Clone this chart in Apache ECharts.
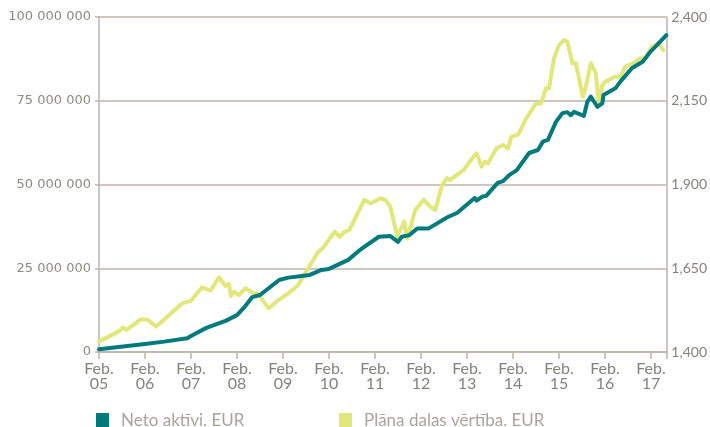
<!DOCTYPE html>
<html>
<head>
<meta charset="utf-8">
<script src="https://cdn.jsdelivr.net/npm/echarts@6/dist/echarts.min.js"></script>
<style>
html,body{margin:0;padding:0;background:#fff;}
#c{width:710px;height:427px;}
</style>
</head>
<body>
<div id="c"></div>
<script>
// x values: months since February 2005
const netMonths = [0, 12, 17, 23, 24, 28, 33, 36, 38, 40, 42, 47, 49.4, 55, 58, 60, 65, 68, 73, 76, 78, 79, 81, 83, 86, 91, 93.4, 98, 98.5, 100, 101, 104, 105.4, 107, 109, 112.2, 114.5, 115.8, 117.1, 119.2, 120.9, 122.2, 123.1, 123.9, 126.5, 127.4, 128.3, 130, 131.3, 131.6, 134.7, 136, 139, 141.9, 143.8, 145.1, 148];
const netValues = [0.8, 2.4, 3.1, 4.1, 4.8, 7.2, 9.3, 11.0, 13.5, 16.4, 17.0, 21.5, 22.2, 23.0, 24.5, 24.8, 27.5, 30.4, 34.4, 34.6, 32.9, 34.4, 34.9, 36.9, 36.9, 40.3, 41.5, 46.0, 45.2, 46.4, 46.6, 50.5, 51.0, 52.8, 54.3, 59.4, 60.3, 62.8, 63.3, 68.7, 71.3, 71.6, 70.7, 71.7, 70.5, 74.7, 76.2, 73.2, 74.2, 76.7, 78.7, 80.7, 84.7, 86.7, 89.6, 91.1, 94.6]; // million EUR

const unitMonths = [0, 5.4, 6.2, 7.2, 11, 12.7, 14.9, 17.8, 21.7, 24, 26.9, 29.1, 31.3, 33, 33.9, 34.4, 35.2, 36.5, 38.2, 40.3, 41.6, 44.2, 46.8, 49.4, 52, 54, 57.2, 58.4, 61.5, 62.8, 64.1, 65.3, 66.6, 69.2, 70.9, 72.7, 73.4, 74.7, 76, 77.8, 79.6, 80.4, 82.5, 84.7, 86.4, 87.7, 89.5, 90.8, 91.5, 95.1, 97.7, 98.5, 99.8, 100.6, 101.5, 103.7, 105.4, 106.7, 107.6, 109.3, 111.5, 114, 115.3, 116.6, 117.4, 118.7, 120, 121.3, 122.2, 123.5, 124.4, 126.2, 127, 128.3, 129.6, 130.3, 131.3, 132.1, 134.7, 136, 137.3, 139.4, 141.2, 142.5, 144.2, 145.9, 147.2];
const unitValues = [1431, 1463, 1473, 1466, 1498, 1496, 1476, 1505, 1545, 1553, 1593, 1583, 1623, 1597, 1603, 1567, 1580, 1570, 1590, 1576, 1573, 1530, 1555, 1575, 1600, 1640, 1699, 1710, 1759, 1744, 1759, 1764, 1794, 1854, 1844, 1854, 1859, 1854, 1834, 1744, 1789, 1739, 1824, 1854, 1834, 1824, 1898, 1919, 1913, 1943, 1983, 1993, 1953, 1968, 1963, 2008, 2018, 2008, 2043, 2048, 2098, 2142, 2142, 2187, 2187, 2277, 2316, 2331, 2326, 2262, 2262, 2162, 2192, 2262, 2232, 2147, 2197, 2207, 2222, 2222, 2252, 2262, 2277, 2277, 2311, 2321, 2301];

const yearLabels = ['05','06','07','08','09','10','11','12','13','14','15','16','17'];
const seriesNames = ['Neto aktīvi. EUR', 'Plāna dalas vērtība. EUR'];

const FONT = 'Lato, "Open Sans", sans-serif';
const GRID = '#bdb5ab';
const TXT = '#86817b';

const netData = netMonths.map((m, i) => [m, netValues[i] * 1e6]);
const unitData = unitMonths.map((m, i) => [m, unitValues[i]]);

const chart = echarts.init(document.getElementById('c'), null, {renderer: 'canvas'});
chart.setOption({
  animation: false,
  backgroundColor: '#ffffff',
  textStyle: {fontFamily: FONT},
  grid: {left: 99, right: 38, top: 17, bottom: 75, containLabel: false},
  legend: [
    {data: [seriesNames[0]], left: 96, top: 412, padding: 0, icon: 'rect', itemWidth: 13, itemHeight: 15, itemGap: 10,
     textStyle: {fontFamily: FONT, fontSize: 17, color: '#aaa49c', padding: [0, 0, 0, 7]}},
    {data: [seriesNames[1]], left: 339, top: 412, padding: 0, icon: 'rect', itemWidth: 13, itemHeight: 15, itemGap: 10,
     textStyle: {fontFamily: FONT, fontSize: 17, color: '#aaa49c', padding: [0, 0, 0, 7]}}
  ],
  xAxis: {
    type: 'value', min: 0, max: 148, interval: 12,
    axisLine: {show: true, lineStyle: {color: GRID, width: 1.5}},
    axisTick: {show: true, length: 7, lineStyle: {color: GRID, width: 1.5}},
    splitLine: {show: false},
    axisLabel: {
      fontFamily: FONT, fontSize: 16, color: TXT, lineHeight: 15, margin: 9,
      formatter: v => (v % 12 === 0 && v / 12 < yearLabels.length) ? 'Feb.\n' + yearLabels[v / 12] : ''
    }
  },
  yAxis: [
    {
      type: 'value', min: 0, max: 100000000, interval: 25000000, position: 'left',
      axisLine: {show: true, lineStyle: {color: GRID, width: 1.5}},
      axisTick: {show: true, length: 4, lineStyle: {color: GRID, width: 1.5}},
      splitLine: {show: true, lineStyle: {color: GRID, width: 1.5}},
      axisLabel: {fontFamily: '"DejaVu Sans", sans-serif', fontSize: 13, color: '#8e8982', margin: 8,
        formatter: v => String(Math.round(v)).replace(/\B(?=(\d{3})+(?!\d))/g, ' ')}
    },
    {
      type: 'value', min: 1400, max: 2400, interval: 250, position: 'right',
      axisLine: {show: true, lineStyle: {color: GRID, width: 1.5}},
      axisTick: {show: false},
      splitLine: {show: false},
      axisLabel: {fontFamily: FONT, fontSize: 14, color: TXT, margin: 5,
        formatter: v => String(Math.round(v)).replace(/\B(?=(\d{3})+(?!\d))/g, ',')}
    }
  ],
  series: [
    {
      name: seriesNames[1], type: 'line', yAxisIndex: 1, data: unitData,
      showSymbol: false, symbol: 'none', smooth: false, z: 2,
      itemStyle: {color: '#e1e77a'},
      lineStyle: {color: '#e1e77a', width: 4, cap: 'round', join: 'round'}
    },
    {
      name: seriesNames[0], type: 'line', yAxisIndex: 0, data: netData,
      showSymbol: false, symbol: 'none', smooth: false, z: 3,
      itemStyle: {color: '#007a7c'},
      lineStyle: {color: '#007a7c', width: 4, cap: 'round', join: 'round'}
    }
  ]
});
</script>
</body>
</html>
